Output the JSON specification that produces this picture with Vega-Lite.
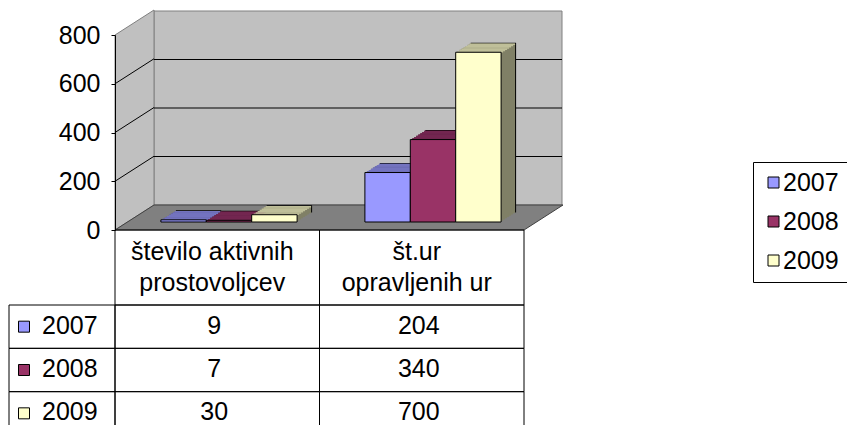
{
  "$schema": "https://vega.github.io/schema/vega-lite/v6.json",
  "width": 847,
  "height": 425,
  "padding": 0,
  "autosize": {"type": "none"},
  "config": {"font": "Liberation Sans", "view": {"stroke": null}},
  "datasets": {
    "bars": [
      {"category": "število aktivnih prostovoljcev", "year": "2007", "value": 9},
      {"category": "število aktivnih prostovoljcev", "year": "2008", "value": 7},
      {"category": "število aktivnih prostovoljcev", "year": "2009", "value": 30},
      {"category": "št.ur opravljenih ur", "year": "2007", "value": 204},
      {"category": "št.ur opravljenih ur", "year": "2008", "value": 340},
      {"category": "št.ur opravljenih ur", "year": "2009", "value": 700}
    ],
    "planes": [{"plane": "front"}, {"plane": "back"}],
    "ticks": [{"tick": 200}, {"tick": 400}, {"tick": 600}]
  },
  "layer": [
    {
      "data": {"values": [{}]},
      "mark": {"type": "rect", "fill": "#C0C0C0", "stroke": "#808080", "strokeWidth": 1},
      "encoding": {
        "x": {"datum": 0, "type": "quantitative", "scale": {"domain": [0, 1], "range": [154, 562]}, "axis": null},
        "x2": {"datum": 1},
        "y": {"datum": 0, "type": "quantitative", "scale": {"domain": [0, 800], "range": [205, 11]}, "axis": null},
        "y2": {"datum": 800}
      }
    },
    {
      "data": {"name": "planes"},
      "mark": {"type": "area", "orient": "vertical", "fill": "#C0C0C0", "stroke": "#808080", "strokeWidth": 1, "y2Offset": -195},
      "encoding": {
        "x": {"field": "plane", "type": "ordinal", "scale": {"type": "point", "domain": ["front", "back"], "range": [115, 154], "padding": 0}, "axis": null},
        "y": {"field": "plane", "type": "ordinal", "scale": {"type": "point", "domain": ["front", "back"], "range": [230, 205], "padding": 0}, "axis": null},
        "y2": {"field": "plane"}
      }
    },
    {
      "data": {"name": "planes"},
      "mark": {"type": "area", "orient": "horizontal", "fill": "#808080", "stroke": "#404040", "strokeWidth": 1, "x2Offset": 409},
      "encoding": {
        "y": {"field": "plane", "type": "ordinal", "scale": {"type": "point", "domain": ["front", "back"], "range": [230, 205], "padding": 0}, "axis": null},
        "x": {"field": "plane", "type": "ordinal", "scale": {"type": "point", "domain": ["front", "back"], "range": [115, 154], "padding": 0}, "axis": null},
        "x2": {"field": "plane"}
      }
    },
    {
      "data": {"name": "ticks"},
      "mark": {"type": "rule", "color": "black", "strokeWidth": 1},
      "encoding": {
        "x": {"datum": 0, "type": "quantitative", "scale": {"domain": [0, 1], "range": [154, 562]}, "axis": null},
        "x2": {"datum": 1},
        "y": {"field": "tick", "type": "quantitative", "scale": {"domain": [0, 800], "range": [205, 11]}, "axis": null}
      }
    },
    {
      "data": {"name": "ticks"},
      "mark": {"type": "rule", "color": "black", "strokeWidth": 1, "y2Offset": -25},
      "encoding": {
        "x": {"datum": "front", "type": "ordinal", "scale": {"type": "point", "domain": ["front", "back"], "range": [115, 154], "padding": 0}, "axis": null},
        "x2": {"datum": "back"},
        "y": {"field": "tick", "type": "quantitative", "scale": {"domain": [0, 800], "range": [230, 35]},
          "axis": {"orient": "left", "offset": -115, "values": [0, 200, 400, 600, 800], "tickSize": 4, "tickColor": "black", "domainColor": "black", "labelFontSize": 25, "labelColor": "black", "labelPadding": 11, "title": null, "grid": false, "zindex": 1, "labelFont": "Liberation Sans"}},
        "y2": {"field": "tick"}
      }
    },
    {
      "data": {"name": "bars"},
      "mark": {"type": "bar", "fill": "black"},
      "encoding": {
        "x": {"field": "category", "type": "nominal", "scale": {"domain": ["število aktivnih prostovoljcev", "št.ur opravljenih ur"], "range": [142, 550], "paddingInner": 0, "paddingOuter": 0}, "axis": null},
        "xOffset": {"field": "year", "type": "nominal", "scale": {"domain": ["2007", "2008", "2009"], "paddingInner": 0, "paddingOuter": 0.7467}},
        "y": {"field": "value", "type": "quantitative", "scale": {"domain": [0, 800], "range": [212.4, 18.4]}, "axis": null}
      }
    },
    {
      "data": {"name": "bars"},
      "mark": {"type": "bar"},
      "encoding": {
        "x": {"field": "category", "type": "nominal", "scale": {"domain": ["število aktivnih prostovoljcev", "št.ur opravljenih ur"], "range": [141, 549], "paddingInner": 0, "paddingOuter": 0}, "axis": null},
        "xOffset": {"field": "year", "type": "nominal", "scale": {"domain": ["2007", "2008", "2009"], "paddingInner": 0, "paddingOuter": 0.7467}},
        "y": {"field": "value", "type": "quantitative", "scale": {"domain": [0, 800], "range": [213.2, 19.2]}, "axis": null},
        "fill": {"field": "year", "type": "nominal", "scale": {"domain": ["2007", "2008", "2009"], "range": ["#4D4D80", "#4D1A33", "#808066"]}, "legend": null}
      }
    },
    {
      "data": {"name": "bars"},
      "mark": {"type": "bar"},
      "encoding": {
        "x": {"field": "category", "type": "nominal", "scale": {"domain": ["število aktivnih prostovoljcev", "št.ur opravljenih ur"], "range": [139, 547], "paddingInner": 0, "paddingOuter": 0}, "axis": null},
        "xOffset": {"field": "year", "type": "nominal", "scale": {"domain": ["2007", "2008", "2009"], "paddingInner": 0, "paddingOuter": 0.7467}},
        "y": {"field": "value", "type": "quantitative", "scale": {"domain": [0, 800], "range": [214.5, 20.5]}, "axis": null},
        "fill": {"field": "year", "type": "nominal", "scale": {"domain": ["2007", "2008", "2009"], "range": ["#4D4D80", "#4D1A33", "#808066"]}, "legend": null}
      }
    },
    {
      "data": {"name": "bars"},
      "mark": {"type": "bar"},
      "encoding": {
        "x": {"field": "category", "type": "nominal", "scale": {"domain": ["število aktivnih prostovoljcev", "št.ur opravljenih ur"], "range": [137, 545], "paddingInner": 0, "paddingOuter": 0}, "axis": null},
        "xOffset": {"field": "year", "type": "nominal", "scale": {"domain": ["2007", "2008", "2009"], "paddingInner": 0, "paddingOuter": 0.7467}},
        "y": {"field": "value", "type": "quantitative", "scale": {"domain": [0, 800], "range": [215.7, 21.7]}, "axis": null},
        "fill": {"field": "year", "type": "nominal", "scale": {"domain": ["2007", "2008", "2009"], "range": ["#4D4D80", "#4D1A33", "#808066"]}, "legend": null}
      }
    },
    {
      "data": {"name": "bars"},
      "mark": {"type": "bar"},
      "encoding": {
        "x": {"field": "category", "type": "nominal", "scale": {"domain": ["število aktivnih prostovoljcev", "št.ur opravljenih ur"], "range": [135, 543], "paddingInner": 0, "paddingOuter": 0}, "axis": null},
        "xOffset": {"field": "year", "type": "nominal", "scale": {"domain": ["2007", "2008", "2009"], "paddingInner": 0, "paddingOuter": 0.7467}},
        "y": {"field": "value", "type": "quantitative", "scale": {"domain": [0, 800], "range": [217, 23]}, "axis": null},
        "fill": {"field": "year", "type": "nominal", "scale": {"domain": ["2007", "2008", "2009"], "range": ["#4D4D80", "#4D1A33", "#808066"]}, "legend": null}
      }
    },
    {
      "data": {"name": "bars"},
      "mark": {"type": "bar"},
      "encoding": {
        "x": {"field": "category", "type": "nominal", "scale": {"domain": ["število aktivnih prostovoljcev", "št.ur opravljenih ur"], "range": [133, 541], "paddingInner": 0, "paddingOuter": 0}, "axis": null},
        "xOffset": {"field": "year", "type": "nominal", "scale": {"domain": ["2007", "2008", "2009"], "paddingInner": 0, "paddingOuter": 0.7467}},
        "y": {"field": "value", "type": "quantitative", "scale": {"domain": [0, 800], "range": [218.2, 24.2]}, "axis": null},
        "fill": {"field": "year", "type": "nominal", "scale": {"domain": ["2007", "2008", "2009"], "range": ["#4D4D80", "#4D1A33", "#808066"]}, "legend": null}
      }
    },
    {
      "data": {"name": "bars"},
      "mark": {"type": "bar"},
      "encoding": {
        "x": {"field": "category", "type": "nominal", "scale": {"domain": ["število aktivnih prostovoljcev", "št.ur opravljenih ur"], "range": [131, 539], "paddingInner": 0, "paddingOuter": 0}, "axis": null},
        "xOffset": {"field": "year", "type": "nominal", "scale": {"domain": ["2007", "2008", "2009"], "paddingInner": 0, "paddingOuter": 0.7467}},
        "y": {"field": "value", "type": "quantitative", "scale": {"domain": [0, 800], "range": [219.5, 25.5]}, "axis": null},
        "fill": {"field": "year", "type": "nominal", "scale": {"domain": ["2007", "2008", "2009"], "range": ["#4D4D80", "#4D1A33", "#808066"]}, "legend": null}
      }
    },
    {
      "data": {"name": "bars"},
      "mark": {"type": "bar"},
      "encoding": {
        "x": {"field": "category", "type": "nominal", "scale": {"domain": ["število aktivnih prostovoljcev", "št.ur opravljenih ur"], "range": [129, 537], "paddingInner": 0, "paddingOuter": 0}, "axis": null},
        "xOffset": {"field": "year", "type": "nominal", "scale": {"domain": ["2007", "2008", "2009"], "paddingInner": 0, "paddingOuter": 0.7467}},
        "y": {"field": "value", "type": "quantitative", "scale": {"domain": [0, 800], "range": [220.7, 26.7]}, "axis": null},
        "fill": {"field": "year", "type": "nominal", "scale": {"domain": ["2007", "2008", "2009"], "range": ["#4D4D80", "#4D1A33", "#808066"]}, "legend": null}
      }
    },
    {
      "data": {"name": "bars"},
      "mark": {"type": "bar", "y2Offset": 1.6},
      "encoding": {
        "x": {"field": "category", "type": "nominal", "scale": {"domain": ["število aktivnih prostovoljcev", "št.ur opravljenih ur"], "range": [141, 549], "paddingInner": 0, "paddingOuter": 0}, "axis": null},
        "xOffset": {"field": "year", "type": "nominal", "scale": {"domain": ["2007", "2008", "2009"], "paddingInner": 0, "paddingOuter": 0.7467}},
        "y": {"field": "value", "type": "quantitative", "scale": {"domain": [0, 800], "range": [213.2, 19.2]}, "axis": null},
        "y2": {"field": "value"},
        "fill": {"field": "year", "type": "nominal", "scale": {"domain": ["2007", "2008", "2009"], "range": ["#7373BF", "#732650", "#BFBF99"]}, "legend": null}
      }
    },
    {
      "data": {"name": "bars"},
      "mark": {"type": "bar", "y2Offset": 1.6},
      "encoding": {
        "x": {"field": "category", "type": "nominal", "scale": {"domain": ["število aktivnih prostovoljcev", "št.ur opravljenih ur"], "range": [139, 547], "paddingInner": 0, "paddingOuter": 0}, "axis": null},
        "xOffset": {"field": "year", "type": "nominal", "scale": {"domain": ["2007", "2008", "2009"], "paddingInner": 0, "paddingOuter": 0.7467}},
        "y": {"field": "value", "type": "quantitative", "scale": {"domain": [0, 800], "range": [214.5, 20.5]}, "axis": null},
        "y2": {"field": "value"},
        "fill": {"field": "year", "type": "nominal", "scale": {"domain": ["2007", "2008", "2009"], "range": ["#7373BF", "#732650", "#BFBF99"]}, "legend": null}
      }
    },
    {
      "data": {"name": "bars"},
      "mark": {"type": "bar", "y2Offset": 1.6},
      "encoding": {
        "x": {"field": "category", "type": "nominal", "scale": {"domain": ["število aktivnih prostovoljcev", "št.ur opravljenih ur"], "range": [137, 545], "paddingInner": 0, "paddingOuter": 0}, "axis": null},
        "xOffset": {"field": "year", "type": "nominal", "scale": {"domain": ["2007", "2008", "2009"], "paddingInner": 0, "paddingOuter": 0.7467}},
        "y": {"field": "value", "type": "quantitative", "scale": {"domain": [0, 800], "range": [215.7, 21.7]}, "axis": null},
        "y2": {"field": "value"},
        "fill": {"field": "year", "type": "nominal", "scale": {"domain": ["2007", "2008", "2009"], "range": ["#7373BF", "#732650", "#BFBF99"]}, "legend": null}
      }
    },
    {
      "data": {"name": "bars"},
      "mark": {"type": "bar", "y2Offset": 1.6},
      "encoding": {
        "x": {"field": "category", "type": "nominal", "scale": {"domain": ["število aktivnih prostovoljcev", "št.ur opravljenih ur"], "range": [135, 543], "paddingInner": 0, "paddingOuter": 0}, "axis": null},
        "xOffset": {"field": "year", "type": "nominal", "scale": {"domain": ["2007", "2008", "2009"], "paddingInner": 0, "paddingOuter": 0.7467}},
        "y": {"field": "value", "type": "quantitative", "scale": {"domain": [0, 800], "range": [217, 23]}, "axis": null},
        "y2": {"field": "value"},
        "fill": {"field": "year", "type": "nominal", "scale": {"domain": ["2007", "2008", "2009"], "range": ["#7373BF", "#732650", "#BFBF99"]}, "legend": null}
      }
    },
    {
      "data": {"name": "bars"},
      "mark": {"type": "bar", "y2Offset": 1.6},
      "encoding": {
        "x": {"field": "category", "type": "nominal", "scale": {"domain": ["število aktivnih prostovoljcev", "št.ur opravljenih ur"], "range": [133, 541], "paddingInner": 0, "paddingOuter": 0}, "axis": null},
        "xOffset": {"field": "year", "type": "nominal", "scale": {"domain": ["2007", "2008", "2009"], "paddingInner": 0, "paddingOuter": 0.7467}},
        "y": {"field": "value", "type": "quantitative", "scale": {"domain": [0, 800], "range": [218.2, 24.2]}, "axis": null},
        "y2": {"field": "value"},
        "fill": {"field": "year", "type": "nominal", "scale": {"domain": ["2007", "2008", "2009"], "range": ["#7373BF", "#732650", "#BFBF99"]}, "legend": null}
      }
    },
    {
      "data": {"name": "bars"},
      "mark": {"type": "bar", "y2Offset": 1.6},
      "encoding": {
        "x": {"field": "category", "type": "nominal", "scale": {"domain": ["število aktivnih prostovoljcev", "št.ur opravljenih ur"], "range": [131, 539], "paddingInner": 0, "paddingOuter": 0}, "axis": null},
        "xOffset": {"field": "year", "type": "nominal", "scale": {"domain": ["2007", "2008", "2009"], "paddingInner": 0, "paddingOuter": 0.7467}},
        "y": {"field": "value", "type": "quantitative", "scale": {"domain": [0, 800], "range": [219.5, 25.5]}, "axis": null},
        "y2": {"field": "value"},
        "fill": {"field": "year", "type": "nominal", "scale": {"domain": ["2007", "2008", "2009"], "range": ["#7373BF", "#732650", "#BFBF99"]}, "legend": null}
      }
    },
    {
      "data": {"name": "bars"},
      "mark": {"type": "bar", "y2Offset": 1.6},
      "encoding": {
        "x": {"field": "category", "type": "nominal", "scale": {"domain": ["število aktivnih prostovoljcev", "št.ur opravljenih ur"], "range": [129, 537], "paddingInner": 0, "paddingOuter": 0}, "axis": null},
        "xOffset": {"field": "year", "type": "nominal", "scale": {"domain": ["2007", "2008", "2009"], "paddingInner": 0, "paddingOuter": 0.7467}},
        "y": {"field": "value", "type": "quantitative", "scale": {"domain": [0, 800], "range": [220.7, 26.7]}, "axis": null},
        "y2": {"field": "value"},
        "fill": {"field": "year", "type": "nominal", "scale": {"domain": ["2007", "2008", "2009"], "range": ["#7373BF", "#732650", "#BFBF99"]}, "legend": null}
      }
    },
    {
      "data": {"name": "bars"},
      "mark": {"type": "bar", "stroke": "black", "strokeWidth": 1},
      "encoding": {
        "x": {"field": "category", "type": "nominal", "scale": {"domain": ["število aktivnih prostovoljcev", "št.ur opravljenih ur"], "range": [127, 535], "paddingInner": 0, "paddingOuter": 0}, "axis": null},
        "xOffset": {"field": "year", "type": "nominal", "scale": {"domain": ["2007", "2008", "2009"], "paddingInner": 0, "paddingOuter": 0.7467}},
        "y": {"field": "value", "type": "quantitative", "scale": {"domain": [0, 800], "range": [222, 28]}, "axis": null},
        "fill": {"field": "year", "type": "nominal", "scale": {"domain": ["2007", "2008", "2009"], "range": ["#9999FF", "#993366", "#FFFFCC"]},
          "legend": {"orient": "none", "legendX": 753, "legendY": 162, "title": null, "symbolType": "square", "symbolSize": 121, "symbolStrokeColor": "black", "symbolStrokeWidth": 1, "labelFontSize": 25, "labelColor": "black", "labelOffset": -3, "rowPadding": 13, "padding": 8, "strokeColor": "black", "fillColor": "white", "labelFont": "Liberation Sans"}}
      }
    },
    {
      "data": {"name": "bars"},
      "mark": {"type": "rect", "filled": false, "stroke": "black", "strokeWidth": 1},
      "encoding": {
        "x": {"field": "category", "type": "nominal", "scale": {"type": "band", "domain": ["število aktivnih prostovoljcev", "št.ur opravljenih ur"], "range": [115, 524], "paddingInner": 0, "paddingOuter": 0}, "axis": null},
        "y": {"field": "year", "type": "nominal", "scale": {"type": "band", "domain": ["2007", "2008", "2009"], "range": [305, 435], "paddingInner": 0, "paddingOuter": 0}, "axis": null}
      }
    },
    {
      "data": {"name": "bars"},
      "transform": [{"filter": "datum.year === '2007'"}],
      "mark": {"type": "rect", "filled": false, "stroke": "black", "strokeWidth": 1},
      "encoding": {
        "x": {"field": "category", "type": "nominal", "scale": {"type": "band", "domain": ["število aktivnih prostovoljcev", "št.ur opravljenih ur"], "range": [115, 524], "paddingInner": 0, "paddingOuter": 0}, "axis": null},
        "y": {"datum": "header", "type": "nominal", "scale": {"type": "band", "domain": ["header"], "range": [230, 305], "paddingInner": 0, "paddingOuter": 0}, "axis": null}
      }
    },
    {
      "data": {"name": "bars"},
      "transform": [{"filter": "datum.category === 'število aktivnih prostovoljcev'"}],
      "mark": {"type": "rect", "filled": false, "stroke": "black", "strokeWidth": 1},
      "encoding": {
        "x": {"datum": "legend", "type": "nominal", "scale": {"type": "band", "domain": ["legend"], "range": [9, 115], "paddingInner": 0, "paddingOuter": 0}, "axis": null},
        "y": {"field": "year", "type": "nominal", "scale": {"type": "band", "domain": ["2007", "2008", "2009"], "range": [305, 435], "paddingInner": 0, "paddingOuter": 0}, "axis": null}
      }
    },
    {
      "data": {"name": "bars"},
      "mark": {"type": "text", "fontSize": 25, "color": "black", "baseline": "middle", "align": "center", "dx": -3, "dy": -1},
      "encoding": {
        "x": {"field": "category", "type": "nominal", "scale": {"type": "band", "domain": ["število aktivnih prostovoljcev", "št.ur opravljenih ur"], "range": [115, 524], "paddingInner": 0, "paddingOuter": 0}, "axis": null},
        "y": {"field": "year", "type": "nominal", "scale": {"type": "band", "domain": ["2007", "2008", "2009"], "range": [305, 435], "paddingInner": 0, "paddingOuter": 0}, "axis": null},
        "text": {"field": "value", "type": "quantitative"}
      }
    },
    {
      "data": {"name": "bars"},
      "transform": [{"filter": "datum.year === '2007'"}],
      "mark": {"type": "text", "fontSize": 25, "color": "black", "baseline": "middle", "align": "center", "lineHeight": 31, "dy": -15.5, "dx": -5},
      "encoding": {
        "x": {"field": "category", "type": "nominal", "scale": {"type": "band", "domain": ["število aktivnih prostovoljcev", "št.ur opravljenih ur"], "range": [115, 524], "paddingInner": 0, "paddingOuter": 0}, "axis": null},
        "y": {"datum": "header", "type": "nominal", "scale": {"type": "band", "domain": ["header"], "range": [230, 305], "paddingInner": 0, "paddingOuter": 0}, "axis": null},
        "text": {"condition": {"test": "datum.category === 'število aktivnih prostovoljcev'", "value": ["število aktivnih", "prostovoljcev"]}, "value": ["št.ur", "opravljenih ur"]}
      }
    },
    {
      "data": {"name": "bars"},
      "transform": [{"filter": "datum.category === 'število aktivnih prostovoljcev'"}],
      "mark": {"type": "point", "shape": "square", "size": 121, "filled": true, "stroke": "black", "strokeWidth": 1, "opacity": 1, "xOffset": -38},
      "encoding": {
        "x": {"datum": "legend", "type": "nominal", "scale": {"type": "band", "domain": ["legend"], "range": [9, 115], "paddingInner": 0, "paddingOuter": 0}, "axis": null},
        "y": {"field": "year", "type": "nominal", "scale": {"type": "band", "domain": ["2007", "2008", "2009"], "range": [305, 435], "paddingInner": 0, "paddingOuter": 0}, "axis": null},
        "fill": {"field": "year", "type": "nominal", "scale": {"domain": ["2007", "2008", "2009"], "range": ["#9999FF", "#993366", "#FFFFCC"]}, "legend": null}
      }
    },
    {
      "data": {"name": "bars"},
      "transform": [{"filter": "datum.category === 'število aktivnih prostovoljcev'"}],
      "mark": {"type": "text", "fontSize": 25, "color": "black", "baseline": "middle", "align": "left", "dx": -20, "dy": -1},
      "encoding": {
        "x": {"datum": "legend", "type": "nominal", "scale": {"type": "band", "domain": ["legend"], "range": [9, 115], "paddingInner": 0, "paddingOuter": 0}, "axis": null},
        "y": {"field": "year", "type": "nominal", "scale": {"type": "band", "domain": ["2007", "2008", "2009"], "range": [305, 435], "paddingInner": 0, "paddingOuter": 0}, "axis": null},
        "text": {"field": "year", "type": "nominal"}
      }
    }
  ],
  "resolve": {
    "scale": {"x": "independent", "y": "independent", "xOffset": "independent", "fill": "independent"},
    "axis": {"x": "independent", "y": "independent"},
    "legend": {"fill": "independent"}
  }
}
